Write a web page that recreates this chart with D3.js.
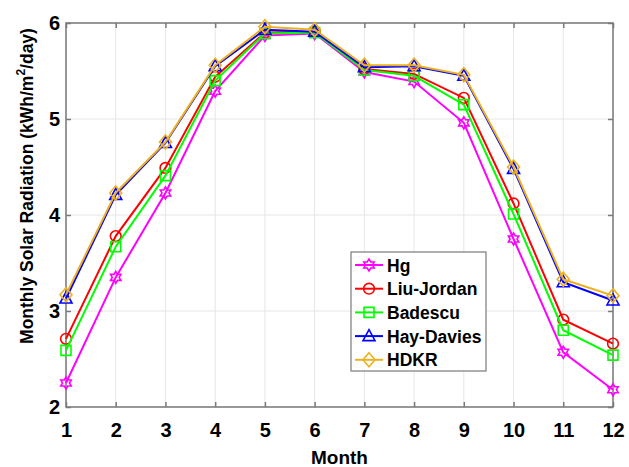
<!DOCTYPE html>
<html>
<head>
<meta charset="utf-8">
<script src="https://cdn.jsdelivr.net/npm/d3@7/dist/d3.min.js"></script>
<style>
  body { margin: 0; background: #fff; }
  text { font-family: "Liberation Sans", Arial, sans-serif; font-weight: bold; fill: #000; }
</style>
</head>
<body>
<svg id="chart" width="629" height="467"></svg>
<script>
// Monthly solar radiation on a tilted surface, by sky model (kWh/m^2/day)
const months = [1, 2, 3, 4, 5, 6, 7, 8, 9, 10, 11, 12];
const hg         = [2.25, 3.35, 4.23, 5.29, 5.87, 5.89, 5.49, 5.39, 4.96, 3.75, 2.57, 2.18];
const liuJordan  = [2.71, 3.78, 4.49, 5.44, 5.90, 5.91, 5.52, 5.47, 5.22, 4.12, 2.91, 2.66];
const badescu    = [2.59, 3.67, 4.41, 5.40, 5.89, 5.90, 5.51, 5.45, 5.15, 4.01, 2.80, 2.54];
const hayDavies  = [3.13, 4.21, 4.75, 5.55, 5.93, 5.91, 5.54, 5.55, 5.45, 4.48, 3.30, 3.11];
const hdkr       = [3.17, 4.23, 4.76, 5.56, 5.96, 5.93, 5.56, 5.56, 5.46, 4.50, 3.33, 3.16];
const yTicks = [2, 3, 4, 5, 6];

const series = [
  { name: "Hg",          values: hg,        color: "#ff00ff", marker: "hexagram" },
  { name: "Liu-Jordan",  values: liuJordan, color: "#ff0000", marker: "circle" },
  { name: "Badescu",     values: badescu,   color: "#00ff00", marker: "square" },
  { name: "Hay-Davies",  values: hayDavies, color: "#0000ff", marker: "triangle" },
  { name: "HDKR",        values: hdkr,      color: "#edb120", marker: "diamond" }
];

const svg = d3.select("#chart");
const m = { left: 66, right: 613, top: 23, bottom: 407 };

const x = d3.scaleLinear().domain([1, 12]).range([m.left, m.right]);
const y = d3.scaleLinear().domain([2, 6]).range([m.bottom, m.top]);

// grid
const grid = svg.append("g");
grid.selectAll("line.gx").data(months).enter().append("line")
  .attr("x1", d => x(d)).attr("x2", d => x(d))
  .attr("y1", m.top).attr("y2", m.bottom)
  .attr("stroke", "#e6e6e6").attr("stroke-width", 1);
grid.selectAll("line.gy").data(yTicks).enter().append("line")
  .attr("x1", m.left).attr("x2", m.right)
  .attr("y1", d => y(d)).attr("y2", d => y(d))
  .attr("stroke", "#e6e6e6").attr("stroke-width", 1);

// axes with inward ticks on all four sides
const axisColor = "#7a7a7a";
function styleAxis(g) {
  g.select(".domain").remove();
  g.selectAll(".tick line").attr("stroke", axisColor).attr("stroke-width", 1.5);
  g.selectAll(".tick text")
    .style("font-size", "20px").style("font-weight", "bold")
    .style("font-family", "'Liberation Sans', Arial, sans-serif").attr("fill", "#000");
}
svg.append("g").attr("transform", `translate(0,${m.bottom})`)
  .call(d3.axisBottom(x).tickValues(months).tickFormat(d3.format("d")).tickSizeInner(-5).tickSizeOuter(0).tickPadding(16))
  .call(styleAxis);
svg.append("g").attr("transform", `translate(0,${m.top})`)
  .call(d3.axisTop(x).tickValues(months).tickSizeInner(-5).tickSizeOuter(0).tickFormat(""))
  .call(styleAxis);
svg.append("g").attr("transform", `translate(${m.left},0)`)
  .call(d3.axisLeft(y).tickValues(yTicks).tickFormat(d3.format("d")).tickSizeInner(-5).tickSizeOuter(0).tickPadding(6))
  .call(styleAxis);
svg.append("g").attr("transform", `translate(${m.right},0)`)
  .call(d3.axisRight(y).tickValues(yTicks).tickSizeInner(-5).tickSizeOuter(0).tickFormat(""))
  .call(styleAxis);

svg.append("rect")
  .attr("x", m.left).attr("y", m.top)
  .attr("width", m.right - m.left).attr("height", m.bottom - m.top)
  .attr("fill", "none").attr("stroke", axisColor).attr("stroke-width", 1.5);

// marker shapes
function hexagramPath(r) {
  const pts = [];
  for (let i = 0; i < 12; i++) {
    const a = -Math.PI / 2 + i * Math.PI / 6;
    const rr = i % 2 === 0 ? r : r * 0.58;
    pts.push([rr * Math.cos(a), rr * Math.sin(a)]);
  }
  return "M" + pts.map(p => p.join(",")).join("L") + "Z";
}
const markerPath = {
  hexagram: hexagramPath(6),
  circle: d3.symbol(d3.symbolCircle, 90)(),
  square: "M-5,-5L5,-5L5,5L-5,5Z",
  triangle: "M0,-6.5L6,4.5L-6,4.5Z",
  diamond: "M0,-7L6,0L0,7L-6,0Z"
};

const line = d3.line().x((d, i) => x(months[i])).y(d => y(d));

series.forEach(s => {
  const g = svg.append("g");
  g.append("path").datum(s.values)
    .attr("d", line).attr("fill", "none")
    .attr("stroke", s.color).attr("stroke-width", 2);
  g.selectAll("path.mk").data(s.values).enter().append("path")
    .attr("class", "mk")
    .attr("transform", (d, i) => `translate(${x(months[i])},${y(d)})`)
    .attr("d", markerPath[s.marker])
    .attr("fill", "none").attr("stroke", s.color).attr("stroke-width", 1.6);
});

// axis titles
svg.append("text")
  .attr("x", (m.left + m.right) / 2).attr("y", 464)
  .attr("text-anchor", "middle").style("font-size", "19px")
  .text("Month");

const yt = svg.append("text")
  .attr("transform", "translate(33,186) rotate(-90)")
  .attr("text-anchor", "middle").style("font-size", "17.5px");
yt.append("tspan").text("Monthly Solar Radiation (kWh/m");
yt.append("tspan").attr("dy", -8).style("font-size", "12px").text("2");
yt.append("tspan").attr("dy", 8).text("/day)");

// legend
const lg = svg.append("g");
lg.append("rect").attr("x", 351).attr("y", 252).attr("width", 135).attr("height", 119)
  .attr("fill", "#fff").attr("stroke", axisColor).attr("stroke-width", 1.2);
series.forEach((s, i) => {
  const cy = 265 + i * 23.7;
  lg.append("line").attr("x1", 355).attr("x2", 383).attr("y1", cy).attr("y2", cy)
    .attr("stroke", s.color).attr("stroke-width", 2);
  lg.append("path").attr("transform", `translate(369,${cy})`)
    .attr("d", markerPath[s.marker]).attr("fill", "none")
    .attr("stroke", s.color).attr("stroke-width", 1.6);
  lg.append("text").attr("x", 387).attr("y", cy + 6.5)
    .style("font-size", "17.5px").text(s.name);
});
</script>
</body>
</html>
